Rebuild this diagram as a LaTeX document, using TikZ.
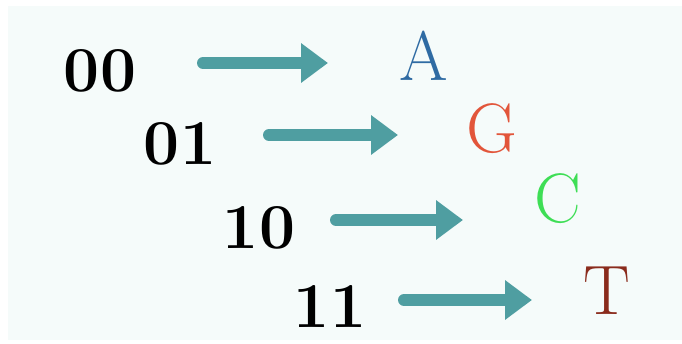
\documentclass[tikz,border=0pt]{standalone}
\usepackage{tikz}
\usetikzlibrary{arrows.meta}
\definecolor{bgtint}{HTML}{F5FBFA}
\definecolor{arrowteal}{HTML}{4F9EA1}
\definecolor{baseA}{HTML}{2F6BA3}
\definecolor{baseG}{HTML}{E2553A}
\definecolor{baseC}{HTML}{3EDE55}
\definecolor{baseT}{HTML}{8A2B1C}
\tikzstyle{bits}=[inner sep=0pt,font=\fontsize{64}{64}\selectfont\bfseries]
\tikzstyle{base}=[inner sep=0pt,font=\fontsize{70}{70}\selectfont]
\tikzstyle{maps} = [draw=arrowteal,line width=12pt,line cap=round,
  -{Triangle[length=27pt,width=38pt]}]

\begin{document}
\begin{tikzpicture}[x=1pt,y=-1pt]
        \useasboundingbox (0,0) rectangle (682,343);
        \fill[bgtint] (8,6) rectangle (682,340);
        % two-bit codes
        \node[bits] (b00) at (100,71) {00};
        \node[bits] (b01) at (180,144) {01};
        \node[bits] (b10) at (259,228) {10};
        \node[bits] (b11) at (330,307) {11};
        % nucleotides
        \node[base,baseA] (nA) at (424,56) {A};
        \node[base,baseG] (nG) at (492,129) {G};
        \node[base,baseC] (nC) at (558,199) {C};
        \node[base,baseT] (nT) at (607,291) {T};
        % arrow ends
        \coordinate (s1) at (203,63);  \coordinate (e1) at (328,63);
        \coordinate (s2) at (269,135); \coordinate (e2) at (398,135);
        \coordinate (s3) at (336,220); \coordinate (e3) at (463,220);
        \coordinate (s4) at (404,300); \coordinate (e4) at (532,300);
        \foreach \i in {1,...,4}
          \draw[maps] (s\i) -- (e\i);
\end{tikzpicture}
\end{document}
